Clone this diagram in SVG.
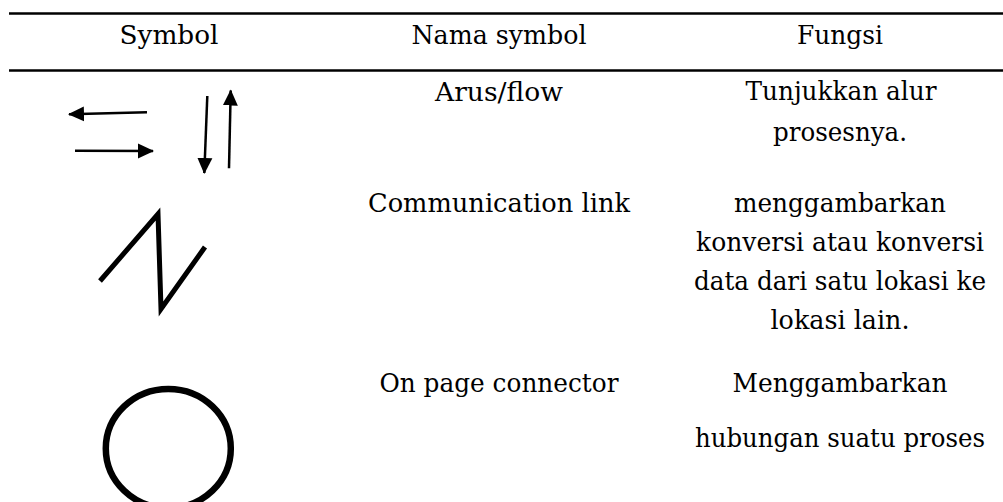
<svg xmlns="http://www.w3.org/2000/svg" width="1003" height="502" viewBox="0 0 1003 502">
<defs>
<style>
.t{font-family:'DejaVu Serif','Liberation Serif',serif;font-size:26px;fill:#000;text-anchor:middle}
.rule{stroke:#000;stroke-width:2.5}
.sym{fill:none;stroke:#000;stroke-width:2.5}
.thick{fill:none;stroke:#000;stroke-width:5;stroke-linejoin:miter}
</style>
<marker id="ah" viewBox="0 0 16 16" refX="15" refY="8" markerWidth="16" markerHeight="16" orient="auto" markerUnits="userSpaceOnUse">
<path d="M0,0.5 L16,8 L0,15.5 z" fill="#000"/>
</marker>
</defs>
<rect width="1003" height="502" fill="#fff"/>
<g id="table-rules">
<line class="rule" x1="9" y1="13.5" x2="1003" y2="13.5"/>
<line class="rule" x1="9" y1="70.5" x2="1003" y2="70.5"/>
</g>
<g id="header">
<text class="t" x="169" y="44" textLength="99" lengthAdjust="spacingAndGlyphs">Symbol</text>
<text class="t" x="499" y="44" textLength="175" lengthAdjust="spacingAndGlyphs">Nama symbol</text>
<text class="t" x="840" y="44" textLength="86" lengthAdjust="spacingAndGlyphs">Fungsi</text>
</g>
<g id="connectors">
<line class="sym" x1="147" y1="112.3" x2="69" y2="114.3" marker-end="url(#ah)"/>
<line class="sym" x1="75" y1="150.7" x2="153" y2="151" marker-end="url(#ah)"/>
<line class="sym" x1="207.3" y1="96" x2="204.3" y2="173" marker-end="url(#ah)"/>
<line class="sym" x1="229" y1="168.3" x2="230.7" y2="90.5" marker-end="url(#ah)"/>
</g>
<g id="row-flow">
<text class="t" x="499" y="101" textLength="128" lengthAdjust="spacingAndGlyphs">Arus/flow</text>
<text class="t" x="841" y="100" textLength="191" lengthAdjust="spacingAndGlyphs">Tunjukkan alur</text>
<text class="t" x="840" y="141" textLength="134" lengthAdjust="spacingAndGlyphs">prosesnya.</text>
</g>
<g id="row-communication">
<polyline class="thick" points="100,281 158,214 161,309 205,247"/>
<text class="t" x="499" y="212" textLength="262" lengthAdjust="spacingAndGlyphs">Communication link</text>
<text class="t" x="840" y="212" textLength="212" lengthAdjust="spacingAndGlyphs">menggambarkan</text>
<text class="t" x="840" y="251" textLength="288" lengthAdjust="spacingAndGlyphs">konversi atau konversi</text>
<text class="t" x="840" y="290" textLength="292" lengthAdjust="spacingAndGlyphs">data dari satu lokasi ke</text>
<text class="t" x="840" y="329" textLength="139" lengthAdjust="spacingAndGlyphs">lokasi lain.</text>
</g>
<g id="row-connector">
<ellipse cx="168.3" cy="448.5" rx="62.5" ry="59.6" fill="none" stroke="#000" stroke-width="6.5"/>
<text class="t" x="499" y="392" textLength="239" lengthAdjust="spacingAndGlyphs">On page connector</text>
<text class="t" x="840" y="392" textLength="215" lengthAdjust="spacingAndGlyphs">Menggambarkan</text>
<text class="t" x="840" y="447" textLength="290" lengthAdjust="spacingAndGlyphs">hubungan suatu proses</text>
</g>
</svg>
